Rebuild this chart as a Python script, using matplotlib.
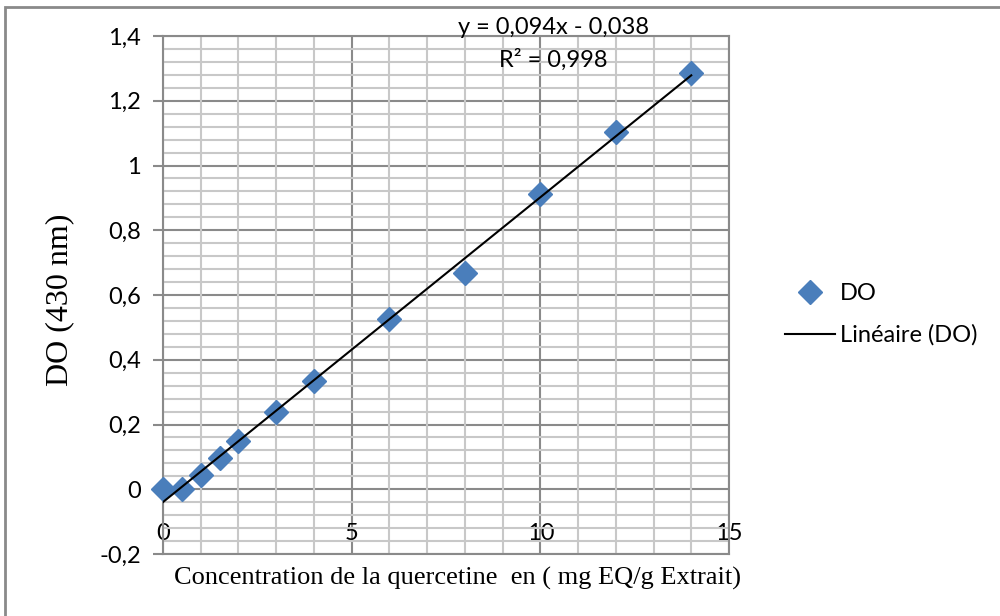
# Courbe d'étalonnage de la quercétine (DO à 430 nm)

import matplotlib.pyplot as plt
plt.switch_backend('agg')
from matplotlib.lines import Line2D
from matplotlib.patches import Rectangle
from matplotlib.ticker import MultipleLocator, FixedLocator
import numpy as np

conc = [0, 0.5, 1, 1.5, 2, 3, 4, 6, 8, 10, 12, 14]
do = [0.0, 0.0, 0.045, 0.095, 0.15, 0.238, 0.335, 0.527, 0.668, 0.912, 1.105, 1.287]

y_ticks = [-0.2, 0, 0.2, 0.4, 0.6, 0.8, 1.0, 1.2, 1.4]
y_labels = ['-0,2', '0', '0,2', '0,4', '0,6', '0,8', '1', '1,2', '1,4']
x_ticks = [0, 5, 10, 15]

eq_text = 'y = 0,094x - 0,038'
r2_text = 'R² = 0,998'

W, H = 1000, 616
fig = plt.figure(figsize=(10, 6.16), dpi=100)
ax = fig.add_axes([163 / W, 1 - 554 / H, (729 - 163) / W, (554 - 36) / H])

# outer frame of the chart area (goes past the bottom/right of the image)
fig.patches.append(Rectangle((5 / W, -0.1), 1.2, 1 - 7 / H + 0.1, transform=fig.transFigure,
                             fill=False, edgecolor='#8a8a8a', linewidth=2))

ax.set_xlim(0, 15)
ax.set_ylim(-0.2, 1.4)

major_col = '#8a8a8a'
minor_col = '#c8c8c8'

# grid: minor every 1 / 0.04, major every 5 / 0.2 (major drawn on top)
ax.xaxis.set_major_locator(FixedLocator(x_ticks))
ax.xaxis.set_minor_locator(MultipleLocator(1))
ax.yaxis.set_major_locator(FixedLocator(y_ticks))
ax.yaxis.set_minor_locator(MultipleLocator(0.04))
ax.grid(which='minor', color=minor_col, linewidth=1.5, zorder=0.5)
for t in x_ticks:
    ax.axvline(t, color=major_col, linewidth=1.5, zorder=1)
for t in y_ticks:
    ax.axhline(t, color=major_col, linewidth=1.5, zorder=1)

for side in ['top', 'right', 'bottom', 'left']:
    ax.spines[side].set_color(major_col)
    ax.spines[side].set_linewidth(1.5)

ax.set_yticklabels(y_labels)
ax.set_xticklabels([str(t) for t in x_ticks])
ax.tick_params(axis='y', which='major', length=7, width=1.5, color=major_col,
               pad=9, labelsize=17, labelfontfamily='Lato')
ax.tick_params(axis='x', which='major', length=0, pad=-22, labelsize=17,
               labelfontfamily='Lato')
ax.tick_params(which='minor', length=0)

# data points
ax.plot(conc, do, linestyle='none', marker='D', markersize=12, color='#4a7ebb',
        markeredgecolor='#4a7ebb', zorder=3, clip_on=False)

# linear trend line
a, b = np.polyfit(conc, do, 1)
xs = np.array([min(conc), max(conc)])
ax.plot(xs, a * xs + b, color='black', linewidth=1.5, zorder=4)

fig.text(553 / W, 1 - 28 / H, eq_text, ha='center', va='center', fontsize=17, family='Lato')
fig.text(553 / W, 1 - 60 / H, r2_text, ha='center', va='center', fontsize=17, family='Lato')

fig.text(457 / W, 1 - 578 / H, 'Concentration de la quercetine  en ( mg EQ/g Extrait)',
         ha='center', va='center', fontsize=19, family='Liberation Serif')
fig.text(60 / W, 1 - 300 / H, 'DO (430 nm)', ha='center', va='center', rotation=90,
         fontsize=23, family='Liberation Serif')

handles = [Line2D([], [], linestyle='none', marker='D', markersize=12, color='#4a7ebb'),
           Line2D([], [], color='black', linewidth=1.5)]
fig.legend(handles, ['DO', 'Linéaire (DO)'], loc='upper left',
           bbox_to_anchor=(764 / W, 1 - 262 / H), frameon=False,
           prop={'family': 'Lato', 'size': 17}, labelspacing=0.85,
           handlelength=2.1, handletextpad=0.2)

plt.savefig('out.png', dpi=100)
